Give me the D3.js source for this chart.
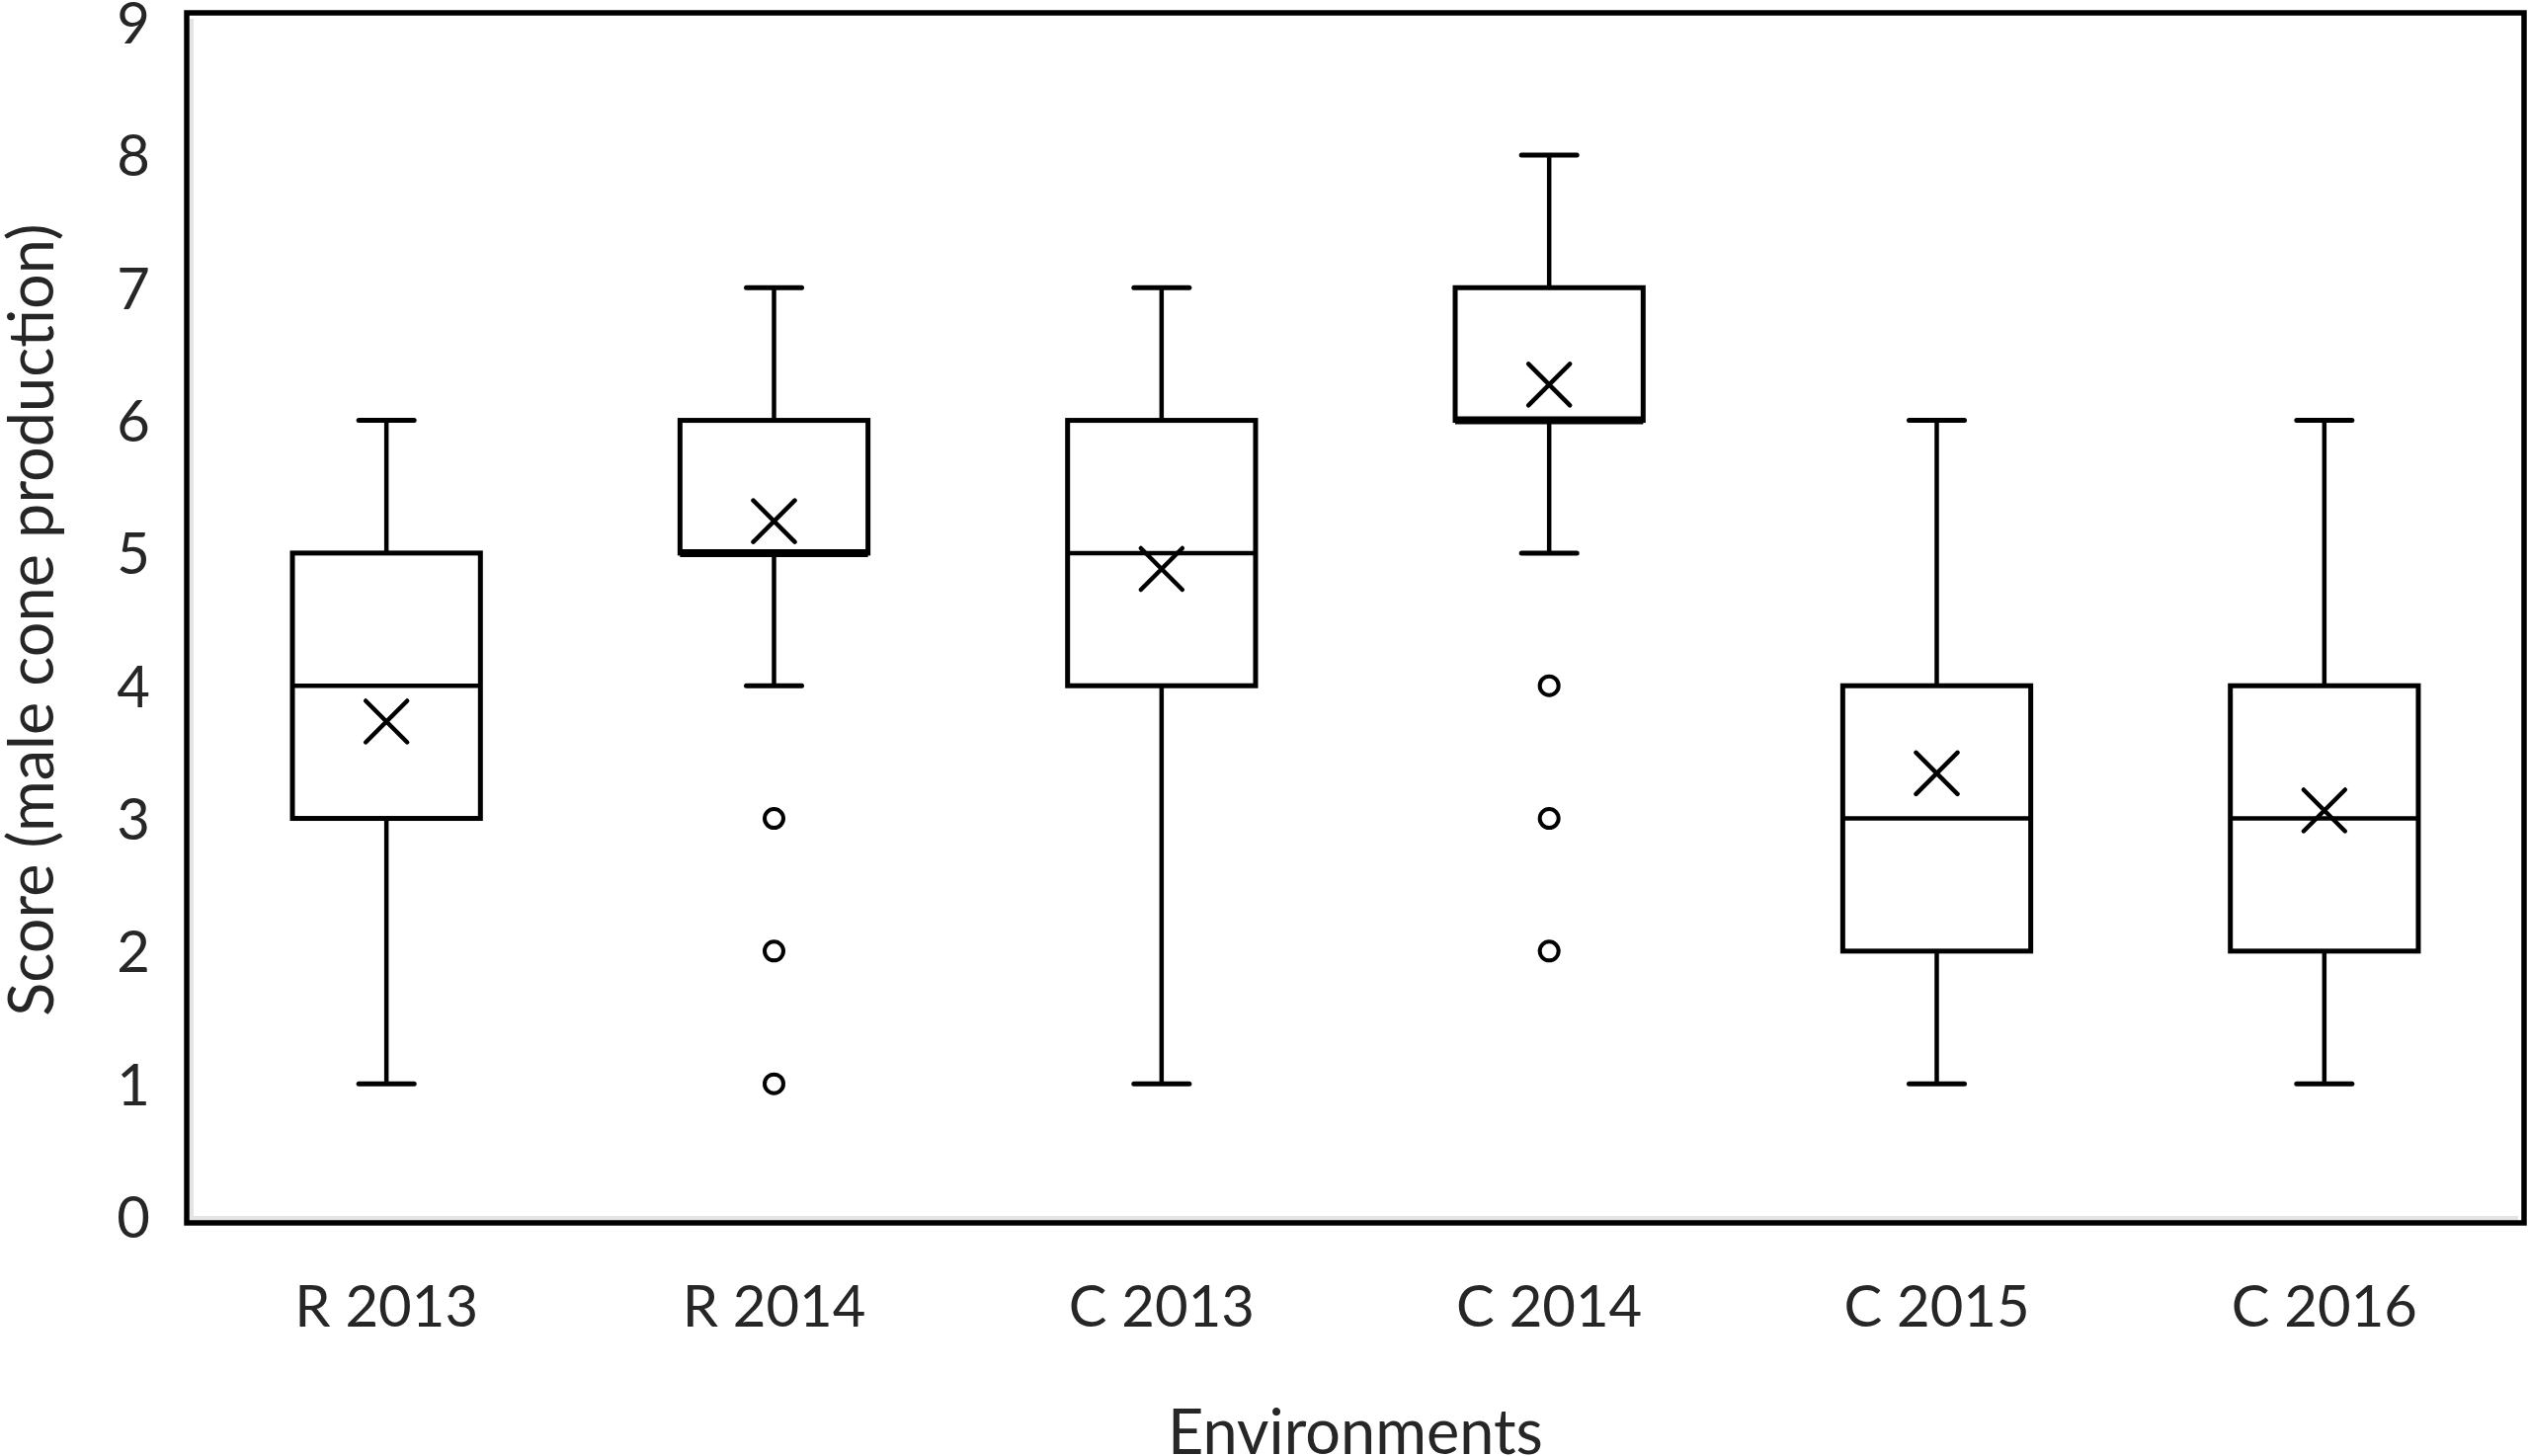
<!DOCTYPE html>
<html>
<head>
<meta charset="utf-8">
<script src="https://cdn.jsdelivr.net/npm/d3@7"></script>
<style>
  body { margin: 0; background: #fff; }
  text { font-family: Lato, "Open Sans", sans-serif; fill: #262626; }
</style>
</head>
<body>
<div id="chart"></div>
<script>
// box plot values
const categories = ['R 2013', 'R 2014', 'C 2013', 'C 2014', 'C 2015', 'C 2016']
const whiskerLow = [1, 4, 1, 5, 1, 1]
const q1 = [3, 5, 4, 6, 2, 2]
const median = [4, 5, 5, 6, 3, 3]
const q3 = [5, 6, 6, 7, 4, 4]
const whiskerHigh = [6, 7, 7, 8, 6, 6]
const means = [3.73, 5.24, 4.88, 6.27, 3.34, 3.06]
const outliers = [[], [3, 2, 1], [], [4, 3, 2], [], []]
const yTicks = [0, 1, 2, 3, 4, 5, 6, 7, 8, 9]

const width = 2559
const height = 1474
// frame of the plot area
const plotLeft = 189, plotRight = 2555, plotTop = 13, plotBottom = 1238

const boxes = categories.map((c, i) => ({
  name: c, lo: whiskerLow[i], q1: q1[i], med: median[i], q3: q3[i],
  hi: whiskerHigh[i], mean: means[i], out: outliers[i]
}))

const svg = d3.select('#chart').append('svg')
  .attr('width', width)
  .attr('height', height)

const x = d3.scaleBand()
  .domain(categories)
  .range([plotLeft + 6, plotRight - 6])

const y = d3.scaleLinear()
  .domain([0, 9])
  .range([1231.5, 22.6])

const boxW = x.bandwidth() * 0.485
const capW = 56

// light shadow inside the frame, then the frame itself
svg.append('path')
  .attr('d', `M${plotLeft + 4},${plotTop + 6} V${plotBottom - 4} H${plotRight - 6}`)
  .attr('fill', 'none')
  .attr('stroke', '#e4e4e4')
  .attr('stroke-width', 6)
svg.append('rect')
  .attr('x', plotLeft).attr('y', plotTop)
  .attr('width', plotRight - plotLeft).attr('height', plotBottom - plotTop)
  .attr('fill', 'none')
  .attr('stroke', '#000')
  .attr('stroke-width', 5.5)

// axes, labels only
const yAxis = d3.axisLeft(y).tickValues(yTicks).tickSize(0).tickPadding(37)
svg.append('g')
  .attr('transform', `translate(${plotLeft},0)`)
  .call(yAxis)
  .call(g => g.select('.domain').remove())
  .selectAll('text')
  .attr('font-size', 58)
  .attr('font-family', null)
  .attr('dy', '0.36em')

const xAxis = d3.axisBottom(x).tickSize(0)
svg.append('g')
  .attr('transform', `translate(0,${plotBottom})`)
  .call(xAxis)
  .call(g => g.select('.domain').remove())
  .selectAll('text')
  .attr('font-size', 58)
  .attr('font-family', null)
  .attr('y', 1343 - plotBottom)
  .attr('dy', null)

const g = svg.append('g')
  .selectAll('g')
  .data(boxes)
  .join('g')
  .attr('transform', d => `translate(${x(d.name) + x.bandwidth() / 2},0)`)

// whiskers
g.append('line')
  .attr('y1', d => y(d.hi)).attr('y2', d => y(d.q3))
  .attr('stroke', '#000').attr('stroke-width', 4.5)
g.append('line')
  .attr('y1', d => y(d.q1)).attr('y2', d => y(d.lo))
  .attr('stroke', '#000').attr('stroke-width', 4.5)
g.append('line')
  .attr('x1', -capW / 2).attr('x2', capW / 2)
  .attr('y1', d => y(d.hi)).attr('y2', d => y(d.hi))
  .attr('stroke', '#000').attr('stroke-width', 5).attr('stroke-linecap', 'round')
g.append('line')
  .attr('x1', -capW / 2).attr('x2', capW / 2)
  .attr('y1', d => y(d.lo)).attr('y2', d => y(d.lo))
  .attr('stroke', '#000').attr('stroke-width', 5).attr('stroke-linecap', 'round')

// box
g.append('rect')
  .attr('x', -boxW / 2)
  .attr('width', boxW)
  .attr('y', d => y(d.q3))
  .attr('height', d => y(d.q1) - y(d.q3))
  .attr('fill', '#fff')
  .attr('stroke', '#000')
  .attr('stroke-width', 5)

// median
g.append('line')
  .attr('x1', -boxW / 2).attr('x2', boxW / 2)
  .attr('y1', d => y(d.med)).attr('y2', d => y(d.med))
  .attr('stroke', '#000').attr('stroke-width', d => d.med === d.q1 ? 8 : 4.5)

// mean marker (x)
const mk = 21
g.append('path')
  .attr('d', d => {
    const cy = y(d.mean)
    return `M${-mk},${cy - mk} L${mk},${cy + mk} M${mk},${cy - mk} L${-mk},${cy + mk}`
  })
  .attr('stroke', '#000')
  .attr('stroke-width', 4.5)
  .attr('stroke-linecap', 'round')

// outliers
g.selectAll('circle')
  .data(d => d.out)
  .join('circle')
  .attr('cy', v => y(v))
  .attr('r', 9.5)
  .attr('fill', '#fff')
  .attr('stroke', '#000')
  .attr('stroke-width', 4)

// axis titles
svg.append('text')
  .attr('x', (plotLeft + plotRight) / 2)
  .attr('y', 1472)
  .attr('text-anchor', 'middle')
  .attr('font-size', 63)
  .text('Environments')

svg.append('text')
  .attr('transform', `translate(54,${(plotTop + plotBottom) / 2 + 2}) rotate(-90)`)
  .attr('text-anchor', 'middle')
  .attr('font-size', 63)
  .text('Score (male cone production)')
</script>
</body>
</html>
